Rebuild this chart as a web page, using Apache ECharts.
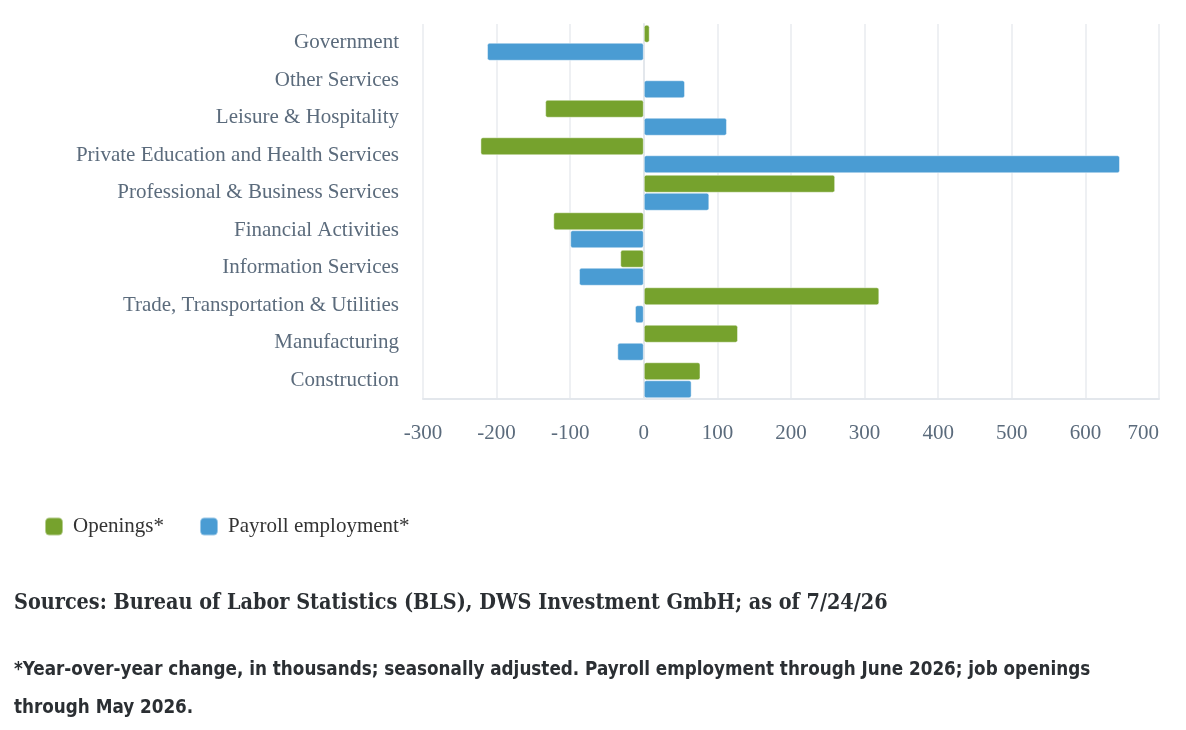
<!DOCTYPE html>
<html>
<head>
<meta charset="utf-8">
<script src="https://cdn.jsdelivr.net/npm/echarts@6/dist/echarts.min.js"></script>
<style>
html,body{margin:0;padding:0;background:#fff;}
#c{width:1186px;height:730px;}
</style>
</head>
<body>
<div id="c"></div>
<script>
const categories = ['Construction','Manufacturing','Trade, Transportation & Utilities','Information Services','Financial Activities','Professional & Business Services','Private Education and Health Services','Leisure & Hospitality','Other Services','Government'];
const openings = [77, 128, 320, -32, -123, 260, -222, -134, null, 8];
const payroll = [65, -36, -12, -88, -100, 89, 647, 113, 56, -213];
const xTicks = {min: -300, max: 700, interval: 100};
const sourcesText = 'Sources: Bureau of Labor Statistics (BLS), DWS Investment GmbH; as of 7/24/26';
const noteLine1 = '*Year-over-year change, in thousands; seasonally adjusted. Payroll employment through June 2026; job openings';
const noteLine2 = 'through May 2026.';

const chart = echarts.init(document.getElementById('c'), null, {renderer:'canvas'});
const txt = '#5b6b7c';
const serif = '"Liberation Serif", "DejaVu Serif", serif';
chart.setOption({
  animation:false,
  grid:{left:423, right:27, top:24, bottom:331, containLabel:false},
  legend:{
    left:44, top:516, padding:0, itemWidth:18, itemHeight:18, itemGap:35, icon:'roundRect',
    textStyle:{color:'#333', fontFamily:serif, fontSize:21, padding:[0,0,0,5]},
    data:['Openings*','Payroll employment*']
  },
  xAxis:{
    type:'value', min:xTicks.min, max:xTicks.max, interval:xTicks.interval,
    axisLine:{show:true, lineStyle:{color:'#e3e7ec', width:2}},
    axisTick:{show:false},
    splitLine:{show:true, lineStyle:{color:'#e8ebef', width:1.5}},
    axisLabel:{color:txt, fontFamily:serif, fontSize:21, margin:24, alignMaxLabel:'right'}
  },
  yAxis:{
    type:'category', data:categories,
    axisLine:{show:true, lineStyle:{color:'#e3e7ec', width:2}},
    axisTick:{show:false},
    axisLabel:{color:txt, fontFamily:serif, fontSize:21, margin:24}
  },
  series:[
    {name:'Openings*', type:'bar', data:openings, barWidth:18, barGap:'0%',
     itemStyle:{color:'#76a22d', borderRadius:2, borderColor:'rgba(255,255,255,0.45)', borderWidth:1}},
    {name:'Payroll employment*', type:'bar', data:payroll, barWidth:18, barGap:'0%',
     itemStyle:{color:'#4a9cd3', borderRadius:2, borderColor:'rgba(255,255,255,0.45)', borderWidth:1}}
  ],
  graphic:[
    {type:'text', left:14, top:593, style:{text:sourcesText, fill:'#2b2f33', font:'bold 21.4px "DejaVu Serif Condensed", "DejaVu Serif", serif'}},
    {type:'text', left:14, top:661, style:{text:noteLine1, fill:'#2b2f33', font:'bold 18.7px "DejaVu Sans Condensed", "DejaVu Sans", sans-serif'}},
    {type:'text', left:14, top:699, style:{text:noteLine2, fill:'#2b2f33', font:'bold 18.7px "DejaVu Sans Condensed", "DejaVu Sans", sans-serif'}}
  ]
});
</script>
</body>
</html>
